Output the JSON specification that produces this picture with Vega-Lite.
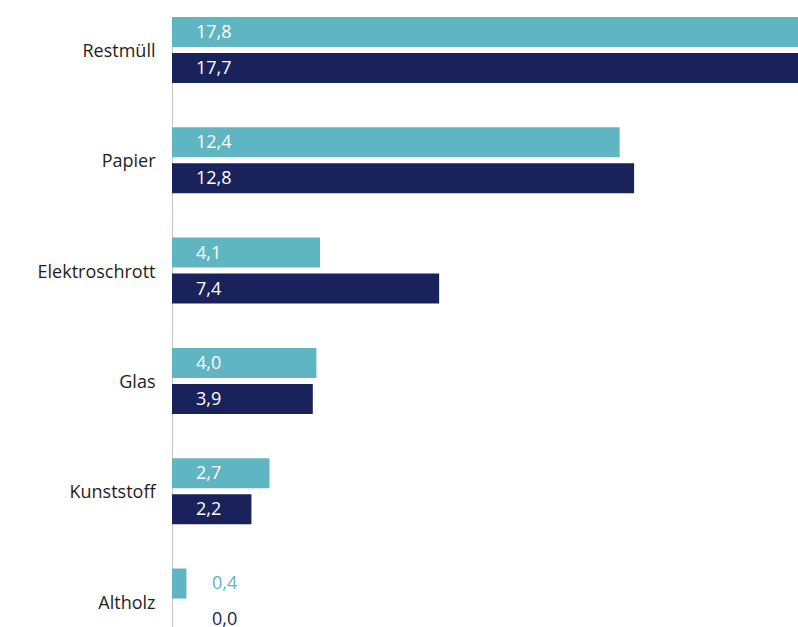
{
  "$schema": "https://vega.github.io/schema/vega-lite/v6.json",
  "width": 626,
  "height": 627,
  "autosize": {"type": "none"},
  "padding": {"left": 172, "top": 0, "right": 0, "bottom": 0},
  "config": {
    "view": {"stroke": null},
    "font": "Open Sans",
    "locale": {"number": {"decimal": ",", "thousands": ".", "grouping": [3], "currency": ["", " €"]}}
  },
  "data": {
    "values": [
      {"kategorie": "Restmüll", "serie": "A", "wert": 17.8},
      {"kategorie": "Restmüll", "serie": "B", "wert": 17.7},
      {"kategorie": "Papier", "serie": "A", "wert": 12.4},
      {"kategorie": "Papier", "serie": "B", "wert": 12.8},
      {"kategorie": "Elektroschrott", "serie": "A", "wert": 4.1},
      {"kategorie": "Elektroschrott", "serie": "B", "wert": 7.4},
      {"kategorie": "Glas", "serie": "A", "wert": 4.0},
      {"kategorie": "Glas", "serie": "B", "wert": 3.9},
      {"kategorie": "Kunststoff", "serie": "A", "wert": 2.7},
      {"kategorie": "Kunststoff", "serie": "B", "wert": 2.2},
      {"kategorie": "Altholz", "serie": "A", "wert": 0.4},
      {"kategorie": "Altholz", "serie": "B", "wert": 0.0}
    ]
  },
  "encoding": {
    "y": {
      "field": "kategorie",
      "type": "nominal",
      "sort": ["Restmüll", "Papier", "Elektroschrott", "Glas", "Kunststoff", "Altholz"],
      "scale": {"range": [17, 634.5], "paddingInner": 0.402, "paddingOuter": 0},
      "axis": {
        "title": null,
        "ticks": false,
        "domainColor": "#c8c8c8",
        "domainWidth": 1,
        "labelFontSize": 18,
        "labelFont": "Open Sans",
        "labelColor": "#1e1e1e",
        "labelPadding": 17,
        "labelOffset": 2
      }
    },
    "yOffset": {
      "field": "serie",
      "type": "nominal",
      "sort": ["A", "B"],
      "scale": {"paddingInner": 0.1667, "paddingOuter": 0}
    },
    "x": {
      "field": "wert",
      "type": "quantitative",
      "scale": {"domain": [0, 17.34], "clamp": true, "nice": false, "zero": true},
      "axis": null
    }
  },
  "layer": [
    {
      "mark": {"type": "bar"},
      "encoding": {
        "color": {
          "field": "serie",
          "type": "nominal",
          "scale": {"domain": ["A", "B"], "range": ["#5fb5c1", "#19225a"]},
          "legend": null
        }
      }
    },
    {
      "transform": [{"filter": "datum.wert >= 1"}],
      "mark": {"type": "text", "align": "left", "baseline": "middle", "dx": 24, "dy": 1, "color": "#ffffff", "fontSize": 18, "font": "Open Sans"},
      "encoding": {
        "x": {"datum": 0, "type": "quantitative"},
        "text": {"field": "wert", "type": "quantitative", "format": ".1f"}
      }
    },
    {
      "transform": [{"filter": "datum.wert < 1"}],
      "mark": {"type": "text", "align": "left", "baseline": "middle", "dx": 40, "fontSize": 18, "font": "Open Sans"},
      "encoding": {
        "x": {"datum": 0, "type": "quantitative"},
        "text": {"field": "wert", "type": "quantitative", "format": ".1f"},
        "color": {
          "field": "serie",
          "type": "nominal",
          "scale": {"domain": ["A", "B"], "range": ["#5fb5c1", "#19225a"]},
          "legend": null
        }
      }
    }
  ]
}
